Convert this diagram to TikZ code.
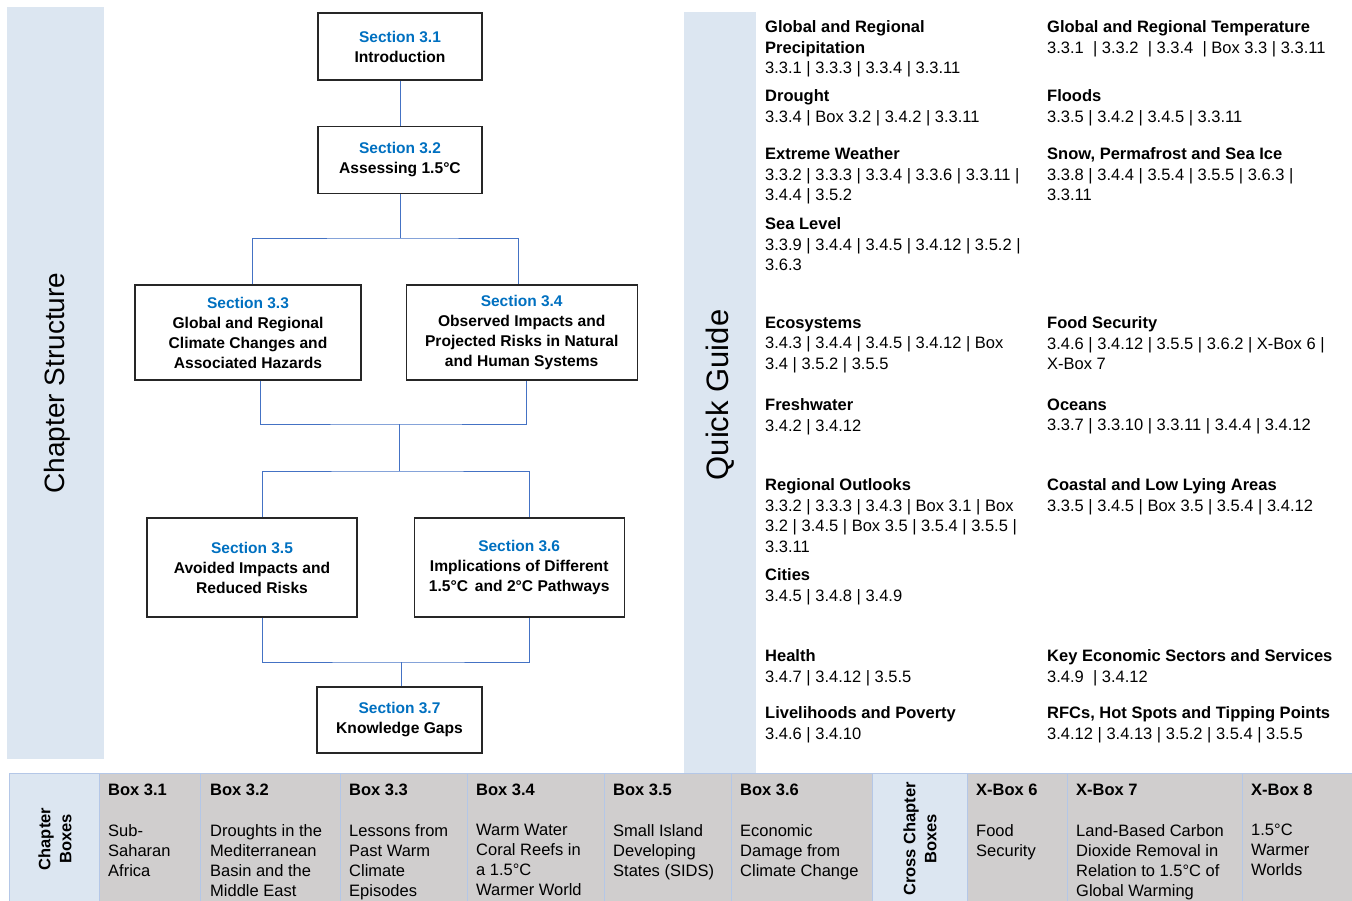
\documentclass[tikz,border=0pt]{standalone}
\usepackage{fontspec}
\setmainfont{Liberation Sans}
\usepackage{xcolor}
\usetikzlibrary{positioning}

\definecolor{panelblue}{HTML}{DCE6F1}
\definecolor{cellgray}{HTML}{D0CECE}
\definecolor{secblue}{HTML}{0070C0}
\definecolor{linkblue}{HTML}{4472C4}
\definecolor{gridblue}{HTML}{B4C7E7}

\newcommand{\sectitle}[1]{\textcolor{secblue}{\fontsize{15.5}{20}\selectfont #1}}

\begin{document}
\begin{tikzpicture}[x=1pt,y=-1pt,
    secbox/.style={draw=black!85,line width=1.2pt,align=center,inner sep=0pt,
      font=\fontsize{15.6}{20}\selectfont\bfseries},
    link/.style={draw=linkblue,line width=0.8pt},
    % first line sits on the given y: strut on top, node hung from it
    qg/.style={anchor=north west,align=left,inner sep=0pt,yshift=11.35pt,
      execute at begin node=\strut,font=\fontsize{16.5}{20.5}\selectfont},
    cellhead/.style={anchor=base west,inner sep=0pt,
      font=\fontsize{16.5}{20}\selectfont\bfseries},
    cellbody/.style={anchor=north west,align=left,inner sep=0pt,yshift=12pt,
      execute at begin node=\strut,font=\fontsize{16.5}{20}\selectfont},
    sidelabel/.style={rotate=90,align=center,inner sep=0pt,
      font=\fontsize{16.5}{21}\selectfont\bfseries}]
    \useasboundingbox (0,0) rectangle (1352,901);

    % side panels
    \fill[panelblue] (7,7) rectangle (104,759);
    \node[rotate=90,font=\fontsize{28}{32}\selectfont] (cs) at (57,383) {Chapter Structure};
    \fill[panelblue] (684,12) rectangle (756,773);
    \node[rotate=90,font=\fontsize{31}{34}\selectfont] (qgt) at (720,395) {Quick Guide};

    % chapter structure
    \node[secbox,minimum width=164pt,minimum height=67pt] (s31) at (400,46.5) {\sectitle{Section 3.1}\\Introduction};
    \node[secbox,minimum width=164pt,minimum height=67pt,below=45pt of s31] (s32) {\sectitle{Section 3.2}\\Assessing 1.5°C};
    \node[secbox,minimum width=226pt,minimum height=95pt] (s33) at (248,332.5) {\sectitle{Section 3.3}\\Global and Regional\\Climate Changes and\\Associated Hazards};
    \node[secbox,minimum width=231pt,minimum height=95pt,right=44pt of s33] (s34) {\sectitle{Section 3.4}\\Observed Impacts and\\Projected Risks in Natural\\and Human Systems};
    \node[secbox,minimum width=210pt,minimum height=99pt] (s35) at (252,567.5) {\sectitle{Section 3.5}\\Avoided Impacts and\\Reduced Risks};
    \node[secbox,minimum width=210pt,minimum height=99pt,right=56pt of s35] (s36) {\sectitle{Section 3.6}\\Implications of Different\\1.5°C\, and 2°C Pathways};
    \node[secbox,minimum width=165pt,minimum height=66pt] (s37) at (399.5,720) {\sectitle{Section 3.7}\\Knowledge Gaps};

    \coordinate (j1) at (400,238);
    \coordinate (j2) at (399,424);
    \coordinate (j3) at (399,471);
    \coordinate (j4) at (401,662);
    \draw[link] (s31) -- (s32);
    \draw[link] (s32) -- (j1);
    \draw[link] ([xshift=4pt]s33.north) |- (j1) -| ([xshift=-3pt]s34.north);
    \draw[link] ([xshift=12pt]s33.south) |- (j2) -| ([xshift=5pt]s34.south);
    \draw[link] (j2) -- (j3);
    \draw[link] ([xshift=10pt]s35.north) |- (j3) -| ([xshift=10pt]s36.north);
    \draw[link] ([xshift=10pt]s35.south) |- (j4) -| ([xshift=10pt]s36.south);
    \draw[link] (j4) -- (j4 |- s37.north);

    % quick guide, left column
    \node[qg] (prec) at (765,32) {\textbf{Global and Regional}\\\textbf{Precipitation}\\3.3.1 | 3.3.3 | 3.3.4 | 3.3.11};
    \node[qg] (drgt) at (765,101) {\textbf{Drought}\\3.3.4 | Box 3.2 | 3.4.2 | 3.3.11};
    \node[qg] (extr) at (765,159) {\textbf{Extreme Weather}\\3.3.2 | 3.3.3 | 3.3.4 | 3.3.6 | 3.3.11 |\\3.4.4 | 3.5.2};
    \node[qg] (seal) at (765,229) {\textbf{Sea Level}\\3.3.9 | 3.4.4 | 3.4.5 | 3.4.12 | 3.5.2 |\\3.6.3};
    \node[qg] (ecos) at (765,328) {\textbf{Ecosystems}\\3.4.3 | 3.4.4 | 3.4.5 | 3.4.12 | Box\\3.4 | 3.5.2 | 3.5.5};
    \node[qg] (fwat) at (765,410) {\textbf{Freshwater}\\3.4.2 | 3.4.12};
    \node[qg] (regn) at (765,490) {\textbf{Regional Outlooks}\\3.3.2 | 3.3.3 | 3.4.3 | Box 3.1 | Box\\3.2 | 3.4.5 | Box 3.5 | 3.5.4 | 3.5.5 |\\3.3.11};
    \node[qg] (city) at (765,580) {\textbf{Cities}\\3.4.5 | 3.4.8 | 3.4.9};
    \node[qg] (hlth) at (765,661) {\textbf{Health}\\3.4.7 | 3.4.12 | 3.5.5};
    \node[qg] (live) at (765,718) {\textbf{Livelihoods and Poverty}\\3.4.6 | 3.4.10};

    % quick guide, right column
    \node[qg] (temp) at (1047,32) {\textbf{Global and Regional Temperature}\\3.3.1 \ | 3.3.2 \ | 3.3.4 \ | Box 3.3 | 3.3.11};
    \node[qg] (fld) at (1047,101) {\textbf{Floods}\\3.3.5 | 3.4.2 | 3.4.5 | 3.3.11};
    \node[qg] (snow) at (1047,159) {\textbf{Snow, Permafrost and Sea Ice}\\3.3.8 | 3.4.4 | 3.5.4 | 3.5.5 | 3.6.3 |\\3.3.11};
    \node[qg] (food) at (1047,328) {\textbf{Food Security}\\3.4.6 | 3.4.12 | 3.5.5 | 3.6.2 | X-Box 6 |\\X-Box 7};
    \node[qg] (ocn) at (1047,410) {\textbf{Oceans}\\3.3.7 | 3.3.10 | 3.3.11 | 3.4.4 | 3.4.12};
    \node[qg] (cst) at (1047,490) {\textbf{Coastal and Low Lying Areas}\\3.3.5 | 3.4.5 | Box 3.5 | 3.5.4 | 3.4.12};
    \node[qg] (econ) at (1047,661) {\textbf{Key Economic Sectors and Services}\\3.4.9 \ | 3.4.12};
    \node[qg] (rfc) at (1047,718) {\textbf{RFCs, Hot Spots and Tipping Points}\\3.4.12 | 3.4.13 | 3.5.2 | 3.5.4 | 3.5.5};

    % boxes table
    \fill[panelblue] (9,773) rectangle (99,901);
    \fill[cellgray] (99,773) rectangle (872,901);
    \fill[panelblue] (872,773) rectangle (967,901);
    \fill[cellgray] (967,773) rectangle (1352,901);
    \draw[gridblue,line width=1pt] (9,901) -- (9,773) -- (1352,773);
    \draw[gridblue,line width=1pt] (99,773) -- (99,901) (200,773) -- (200,901)
      (340,773) -- (340,901) (467,773) -- (467,901) (604,773) -- (604,901)
      (731,773) -- (731,901) (872,773) -- (872,901) (967,773) -- (967,901)
      (1067,773) -- (1067,901) (1242,773) -- (1242,901);

    \node[sidelabel] (chb) at (55,839) {Chapter\\Boxes};
    \node[cellhead] (b31) at (108,795) {Box 3.1};
    \node[cellbody] (b31t) at (108,836) {Sub-\\Saharan\\Africa};
    \node[cellhead] (b32) at (210,795) {Box 3.2};
    \node[cellbody] (b32t) at (210,836) {Droughts in the\\Mediterranean\\Basin and the\\Middle East};
    \node[cellhead] (b33) at (349,795) {Box 3.3};
    \node[cellbody] (b33t) at (349,836) {Lessons from\\Past Warm\\Climate\\Episodes};
    \node[cellhead] (b34) at (476,795) {Box 3.4};
    \node[cellbody] (b34t) at (476,836) {Warm Water\\Coral Reefs in\\a 1.5°C\\Warmer World};
    \node[cellhead] (b35) at (613,795) {Box 3.5};
    \node[cellbody] (b35t) at (613,836) {Small Island\\Developing\\States (SIDS)};
    \node[cellhead] (b36) at (740,795) {Box 3.6};
    \node[cellbody] (b36t) at (740,836) {Economic\\Damage from\\Climate Change};

    \node[sidelabel] (ccb) at (920,839) {Cross Chapter\\Boxes};
    \node[cellhead] (x6) at (976,795) {X-Box 6};
    \node[cellbody] (x6t) at (976,836) {Food\\Security};
    \node[cellhead] (x7) at (1076,795) {X-Box 7};
    \node[cellbody] (x7t) at (1076,836) {Land-Based Carbon\\Dioxide Removal in\\Relation to 1.5°C of\\Global Warming};
    \node[cellhead] (x8) at (1251,795) {X-Box 8};
    \node[cellbody] (x8t) at (1251,836) {1.5°C\\Warmer\\Worlds};
  \end{tikzpicture}
\end{document}
